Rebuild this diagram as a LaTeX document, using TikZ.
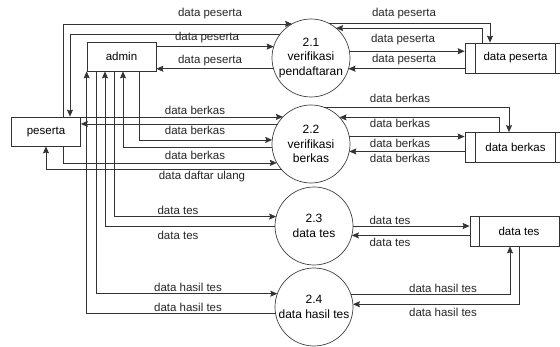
\documentclass[tikz,border=0pt]{standalone}
\usepackage{fontspec}
\setmainfont{Liberation Sans}
\usetikzlibrary{arrows.meta,positioning}

\begin{document}
\begin{tikzpicture}[x=1pt,y=-1pt,on grid,
    font=\fontsize{11.5}{14}\selectfont,
    entity/.style={draw=black!80,line width=0.7pt,minimum width=69pt,minimum height=29pt,inner sep=0pt},
    proc/.style={draw=black!75,line width=0.7pt,circle,minimum size=78pt,inner sep=0pt,outer sep=0pt,align=center,font=\fontsize{12}{14.5}\selectfont},
    store/.style={draw=black!80,line width=0.7pt,minimum height=30pt,inner sep=0pt},
    flow/.style={draw=black!80,line width=0.7pt,-{Stealth[length=7pt,width=6pt,inset=1pt]}},
    lbl/.style={inner sep=0pt,text=black!85}]
    \useasboundingbox (0,0) rectangle (560,347);
    % entities
    \node[entity] (peserta) at (46,131.5) {peserta};
    \node[entity] (admin) at (121.5,56.5) {admin};
    % processes
    \node[proc] (c21) at (311,58) {2.1\\verifikasi\\pendaftaran};
    \node[proc] (c22) [below=86pt of c21] {2.2\\verifikasi\\berkas};
    \node[proc] (c23) at (314,226) {2.3\\data tes};
    \node[proc] (c24) [below=81pt of c23] {2.4\\data hasil tes};
    % data stores
    \node[store,minimum width=97pt] (dp) at (513.5,58) {\hspace*{4pt}data peserta};
    \node[store,minimum width=97pt] (db) [below=89.5pt of dp] {\hspace*{4pt}data berkas};
    \node[store,minimum width=89pt] (dt) at (514.5,231) {\hspace*{9pt}data tes};
    \draw[black!80,line width=0.7pt]
        ([xshift=11pt]dp.north west) -- ([xshift=11pt]dp.south west)
        ([xshift=-7pt]dp.north east) -- ([xshift=-7pt]dp.south east)
        ([xshift=11pt]db.north west) -- ([xshift=11pt]db.south west)
        ([xshift=-7pt]db.north east) -- ([xshift=-7pt]db.south east)
        ([xshift=10pt]dt.north west) -- ([xshift=10pt]dt.south west);

    % 2.1
    \draw[flow] ([xshift=17pt]peserta.north) |- (c21.119.3)
        node[lbl] at (210,14) {data peserta};
    \draw[flow] (c21.142) -| ([xshift=24pt]peserta.north);
    \draw[flow] (c21.163.6 -| admin.east) -- (c21.163.6)
        node[lbl] at (207,38) {data peserta};
    \draw[flow] (c21.196.4) -- (c21.196.4 -| admin.east)
        node[lbl] at (210,61) {data peserta};
    \draw[flow] (c21.63.8) -| ([xshift=-23.5pt]dp.north)
        node[lbl] at (404,14) {data peserta};
    \draw[flow] ([xshift=-31.5pt]dp.north) |- (c21.50.3);
    \draw[flow] (c21.10.3) -- (c21.10.3 -| dp.west)
        node[lbl] at (403,40) {data peserta};
    \draw[flow] (c21.-16.4 -| dp.west) -- (c21.-16.4)
        node[lbl] at (404,60) {data peserta};

    % 2.2
    \draw[flow] (c22.136.2 -| peserta.east) -- (c22.136.2)
        node[lbl] at (195,110) {data berkas};
    \draw[flow] (c22.149.2) -- (c22.149.2 -| peserta.east)
        node[lbl] at (195,130) {data berkas};
    \draw[flow] ([xshift=17.5pt]admin.south) |- (c22.174.1);
    \draw[flow] (c22.185.9) -| ([xshift=1.5pt]admin.south);
    \draw[flow] ([xshift=17pt]peserta.south) |- (c22.209.2)
        node[lbl] at (195,155) {data berkas};
    \draw[flow] (c22.221.8) -| (peserta.south)
        node[lbl] at (202,177) {data daftar ulang};
    \draw[flow] (c22.71.6) -| ([xshift=-4.5pt]db.north)
        node[lbl] at (400,98) {data berkas};
    \draw[flow] ([xshift=-14.5pt]db.north) |- (c22.43.8)
        node[lbl] at (400,123) {data berkas};
    \draw[flow] (c22.11.8) -- (c22.11.8 -| db.west)
        node[lbl] at (400,143) {data berkas};
    \draw[flow] (c22.-11.8 -| db.west) -- (c22.-11.8)
        node[lbl] at (400,158) {data berkas};

    % 2.3
    \draw[flow] ([xshift=-7.5pt]admin.south) |- (c23.166.7)
        node[lbl] at (178,210) {data tes};
    \draw[flow] (c23.180) -| ([xshift=-16.5pt]admin.south)
        node[lbl] at (178,235) {data tes};
    \draw[flow] (c23.0) -- (c23.0 -| dt.west)
        node[lbl] at (390,220) {data tes};
    \draw[flow] (c23.-14.9 -| dt.west) -- (c23.-14.9)
        node[lbl] at (390,242) {data tes};

    % 2.4
    \draw[flow] ([xshift=-25.5pt]admin.south) |- (c24.160.5)
        node[lbl] at (188,287) {data hasil tes};
    \draw[flow] (c24.190.3) -| (admin.south west)
        node[lbl] at (188,307) {data hasil tes};
    \draw[flow] (c24.19.5) -| ([xshift=-4.5pt]dt.south)
        node[lbl] at (443,288) {data hasil tes};
    \draw[flow] ([xshift=4.5pt]dt.south) |- (c24.4.4)
        node[lbl] at (443,312) {data hasil tes};
\end{tikzpicture}
\end{document}
